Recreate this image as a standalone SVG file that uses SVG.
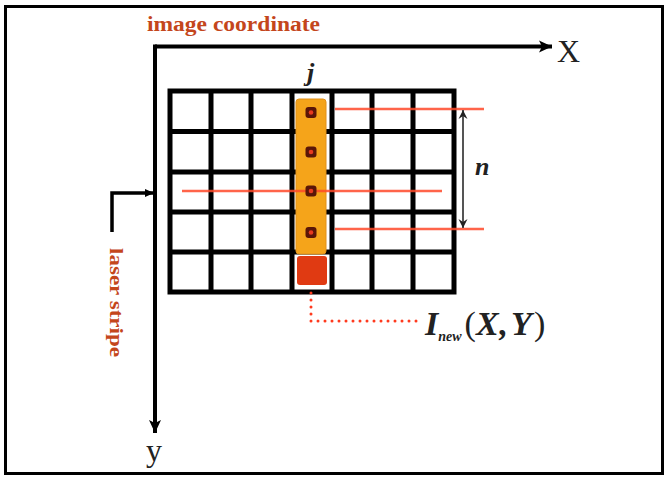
<svg xmlns="http://www.w3.org/2000/svg" width="665" height="478" viewBox="0 0 665 478">
  <defs>
    <marker id="arrowBig" markerUnits="userSpaceOnUse" markerWidth="14" markerHeight="14" refX="13" refY="7" orient="auto">
      <path d="M0,1 L13,7 L0,13 L3,7 z" fill="#000"/>
    </marker>
    <marker id="arrowSmall" markerUnits="userSpaceOnUse" markerWidth="10" markerHeight="10" refX="9" refY="5" orient="auto">
      <path d="M0,1 L9,5 L0,9 z" fill="#000"/>
    </marker>
    <marker id="arrowN" markerUnits="userSpaceOnUse" markerWidth="10" markerHeight="12" refX="9" refY="5" orient="auto-start-reverse">
      <path d="M0,0.5 L9,5 L0,9.5 L3,5 z" fill="#222"/>
    </marker>
  </defs>
  <style>
    .axis { stroke:#000; stroke-width:4; fill:none; }
    .grid { stroke:#000; stroke-width:5; fill:none; }
    .red { stroke:#FF4A2A; stroke-width:2.5; opacity:0.85; }
    .lbl { font-family:"Liberation Serif", serif; font-weight:bold; fill:#C4461C; }
    .math { font-family:"Liberation Serif", serif; font-style:italic; font-weight:bold; fill:#222; }
    .axlbl { font-family:"Liberation Serif", serif; font-size:32px; fill:#222; }
    .dot-o { fill:#5A1608; }
    .dot-i { fill:#E83A1E; }
  </style>
  <rect width="665" height="478" fill="#fff"/>
  <g id="frame">
    <rect x="5.5" y="6.5" width="657" height="467" fill="none" stroke="#000" stroke-width="3"/>
  </g>

  <g id="grid">
    <rect x="170" y="91" width="284" height="201" fill="#fff" class="grid" stroke-width="6"/>
    <path class="grid" d="M211,91 V292 M251,91 V292 M292,91 V292 M332,91 V292 M372,91 V292 M413,91 V292 M170,131.5 H454 M170,172 H454 M170,212 H454 M170,252 H454"/>
  </g>

  <g id="column">
    <rect x="296" y="99" width="30" height="155" rx="3" fill="#F5A41A" stroke="#E0901A" stroke-width="1"/>
    <rect x="297" y="256" width="30" height="29" rx="3" fill="#E03A12"/>
  </g>

  <g id="red-lines">
    <line class="red" x1="182" y1="191" x2="442" y2="191" stroke-width="3"/>
    <line class="red" x1="335" y1="109" x2="484" y2="109"/>
    <line class="red" x1="335" y1="229" x2="484" y2="229"/>
  </g>

  <g id="dots">
    <rect class="dot-o" x="305.5" y="107" width="11" height="11" rx="3"/>
    <circle class="dot-i" cx="311" cy="112.5" r="2.3"/>
    <rect class="dot-o" x="305.5" y="146.5" width="11" height="11" rx="3"/>
    <circle class="dot-i" cx="311" cy="152" r="2.3"/>
    <rect class="dot-o" x="305.5" y="185.5" width="11" height="11" rx="3"/>
    <circle class="dot-i" cx="311" cy="191" r="2.3"/>
    <rect class="dot-o" x="305.5" y="227" width="11" height="11" rx="3"/>
    <circle class="dot-i" cx="311" cy="232.5" r="2.3"/>
  </g>

  <g id="connectors">
    <line class="axis" x1="155" y1="46.5" x2="552" y2="46.5" marker-end="url(#arrowBig)"/>
    <line class="axis" x1="155" y1="44.5" x2="155" y2="433" marker-end="url(#arrowBig)"/>
    <path d="M112,232 V193 H154" stroke="#000" stroke-width="3.5" fill="none" marker-end="url(#arrowSmall)"/>
    <line x1="463" y1="110" x2="463" y2="228" stroke="#555" stroke-width="2" marker-start="url(#arrowN)" marker-end="url(#arrowN)"/>
    <path d="M311,293 V321 H420" stroke="#FF3A1E" stroke-width="3" fill="none" stroke-dasharray="0 7" stroke-linecap="round"/>
  </g>

  <g id="labels">
    <text class="lbl" x="147" y="31" font-size="20" textLength="173" lengthAdjust="spacingAndGlyphs">image coordinate</text>
    <text class="lbl" font-size="18" transform="translate(110,248) rotate(90)" textLength="109" lengthAdjust="spacingAndGlyphs">laser stripe</text>
    <text class="axlbl" x="557" y="62">X</text>
    <text class="axlbl" x="146" y="461">y</text>
    <text class="math" x="307" y="81" font-size="26">j</text>
    <text class="math" x="475" y="175" font-size="26">n</text>
    <text class="math" x="425" y="335" font-size="34">I<tspan font-size="14" dy="6">new</tspan><tspan dy="-6" dx="3" font-style="normal" font-weight="normal">(</tspan>X<tspan dx="1">,</tspan><tspan dx="3">Y</tspan><tspan dx="2" font-style="normal" font-weight="normal">)</tspan></text>
  </g>
</svg>
